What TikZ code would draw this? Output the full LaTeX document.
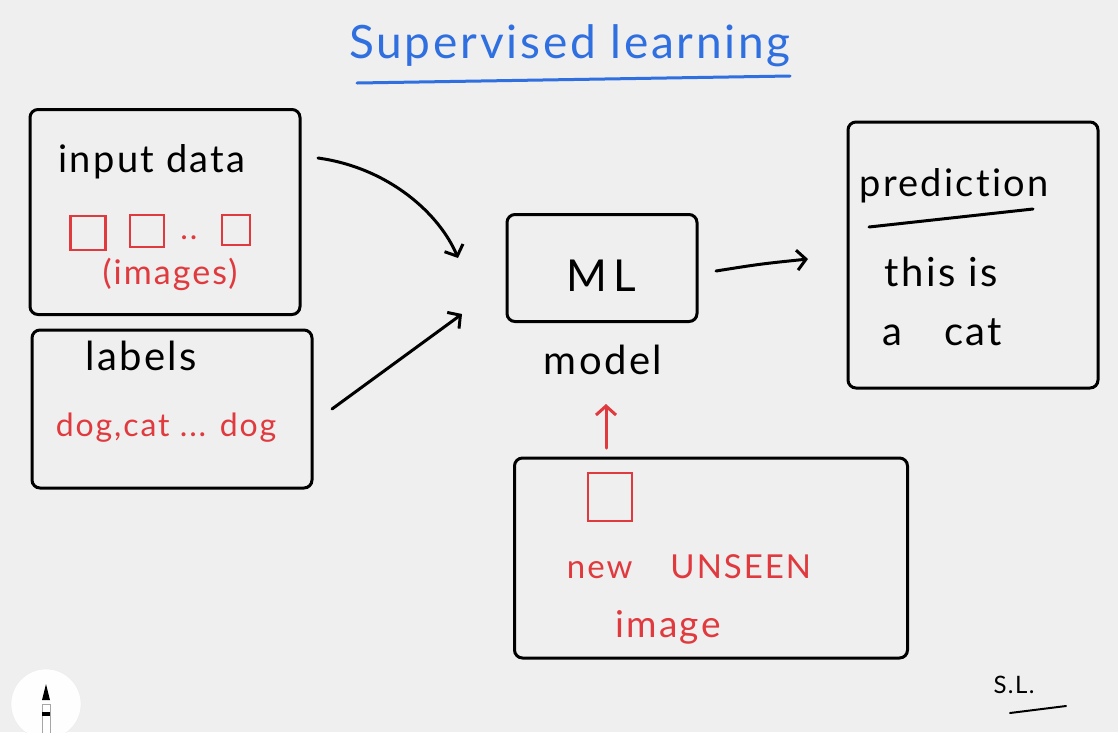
\documentclass[tikz,border=0pt]{standalone}
\usepackage{fontspec}
\setmainfont{Lato}
\newfontfamily\handfont[LetterSpace=6,Ligatures=NoCommon]{Lato}
\usetikzlibrary{arrows.meta}
\definecolor{paper}{HTML}{EFEFEF}
\definecolor{inkred}{HTML}{E0393E}
\definecolor{inkblue}{HTML}{2F6FE0}
\tikzset{
  box/.style={draw=black, line width=3pt, rounded corners=8pt, minimum width=#1},
  hand/.style={font=\handfont\fontsize{38}{42}\selectfont, text=black, inner sep=0pt},
  redtxt/.style={font=\handfont\fontsize{32}{36}\selectfont, text=inkred, inner sep=0pt},
  redsq/.style={draw=inkred, line width=2.5pt, inner sep=0pt},
  arr/.style={line width=3pt, line cap=round, -{Straight Barb[length=9pt,width=20pt,line width=3pt]}},
}
\begin{document}
\begin{tikzpicture}[x=1pt,y=-1pt]
\fill[paper] (0,0) rectangle (1118,732);
\useasboundingbox (0,0) rectangle (1118,732);
% title
\node[font=\handfont\fontsize{46}{50}\selectfont, text=inkblue, inner sep=0pt] (title) at (570,46) {Supervised learning};
\coordinate (ulA) at (357,83);
\coordinate (ulB) at (790,76);
\draw[inkblue, line width=3pt, line cap=round] (ulA) -- (ulB);
% boxes
\node[box=270pt, minimum height=205pt] (inp) at (165,212) {};
\node[box=280pt, minimum height=158pt] (lab) at (172,409) {};
\node[box=190pt, minimum height=107pt] (ml) at (602,268) {};
\node[box=250pt, minimum height=266pt] (pred) at (973,255) {};
\node[box=393pt, minimum height=200pt] (uns) at (711,558) {};
% input data
\node[hand] (inptxt) at (152,162) {input data};
\node[redsq, minimum width=35pt, minimum height=34pt] (sq1) at (88,233) {};
\node[redsq, minimum width=34pt, minimum height=32pt] (sq2) at (147,231) {};
\node[redtxt] (dots) at (189,238) {..};
\node[redsq, minimum width=28pt, minimum height=30pt] (sq3) at (236,230) {};
\node[redtxt, font=\handfont\fontsize{34}{38}\selectfont] (imgs) at (170,274) {(images)};
% labels
\node[hand, font=\handfont\fontsize{40}{44}\selectfont] (labtxt) at (141,356) {labels};
\node[redtxt] (dogs) at (166,428) {dog,cat ... dog};
% ML
\node[hand, font=\handfont\fontsize{44}{48}\selectfont] (mltxt) at (601,276) {M\hspace{6pt}L};
\node[hand, font=\handfont\fontsize{40}{44}\selectfont] (model) at (603,360) {model};
% prediction
\node[hand] (predtxt) at (954,186) {prediction};
\coordinate (puA) at (869,227);
\coordinate (puB) at (1033,209);
\draw[line width=3pt, line cap=round] (puA) -- (puB);
\node[hand, font=\handfont\fontsize{40}{44}\selectfont] (this) at (941,272) {this is};
\node[hand, font=\handfont\fontsize{40}{44}\selectfont] (acat) at (942,332) {a\hspace{42pt}cat};
% unseen
\node[redsq, minimum width=44pt, minimum height=48pt] (sq4) at (610,497) {};
\node[redtxt, font=\handfont\fontsize{33}{36}\selectfont] (newu) at (689,567) {new\hspace{38pt}UNSEEN};
\node[redtxt, font=\handfont\fontsize{37}{40}\selectfont] (imgw) at (668,627) {image};
% arrows
\coordinate (a1s) at (318,158);
\coordinate (a1e) at (458,258);
\draw[arr] (a1s) .. controls (390,168) and (440,215) .. (a1e);
\coordinate (a2s) at (332,409);
\coordinate (a2e) at (462,314);
\draw[arr] (a2s) -- (a2e);
\coordinate (a3s) at (716,271);
\coordinate (a3e) at (808,259);
\draw[arr] (a3s) .. controls (760,264) .. (a3e);
\coordinate (a4s) at (606,448);
\coordinate (a4e) at (606,404);
\draw[arr, inkred] (a4s) -- (a4e);
% signature
\node[hand, font=\handfont\fontsize{24}{26}\selectfont] (sig) at (1014,685) {S.L.};
\coordinate (sgA) at (1010,713);
\coordinate (sgB) at (1066,706);
\draw[line width=2pt, line cap=round] (sgA) -- (sgB);
% pencil button
\fill[white!97!paper, draw=black!8] (46,704) circle (35);
\node[fill=white, draw=black!35, minimum width=8pt, minimum height=32pt, inner sep=0pt] (pencil) at (46,720) {};
\fill[black] (42,700) -- (46,684) -- (50,700) -- cycle;
\fill[black] (42,712) rectangle (50,716);
\end{tikzpicture}
\end{document}
